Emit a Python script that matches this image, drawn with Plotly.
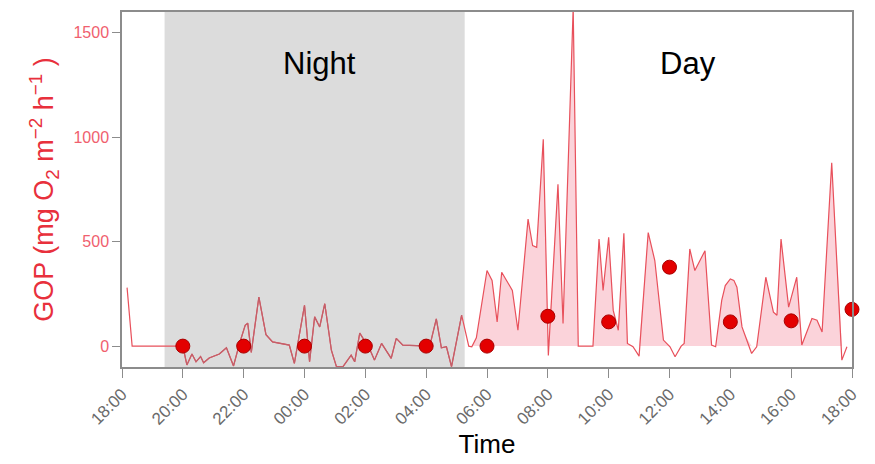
import pandas as pd
import numpy as np
import plotly.graph_objects as go

# ---------------- data ----------------
line_times = ["18:10", "18:20", "20:00", "20:08", "20:18", "20:26", "20:35", "20:41", "20:52",
              "21:12", "21:26", "21:40", "21:52", "22:03", "22:08", "22:15", "22:30", "22:44",
              "22:57", "23:17", "23:30", "23:40", "00:00", "00:10", "00:20", "00:30", "00:40",
              "00:53", "01:03", "01:16", "01:32", "01:39", "01:49", "02:08", "02:18", "02:32",
              "02:41", "02:51", "03:01", "03:14", "04:07", "04:20", "04:30", "04:40", "04:50",
              "05:10", "05:24", "05:30", "05:39", "06:00", "06:10", "06:20", "06:29", "06:38",
              "06:50", "07:01", "07:21", "07:30", "07:38", "07:51", "08:01", "08:20", "08:30",
              "08:50", "09:00", "09:29", "09:41", "09:49", "10:00", "10:09", "10:19", "10:30",
              "10:37", "10:48", "11:00", "11:18", "11:31", "11:48", "12:01", "12:11", "12:23",
              "12:29", "12:40", "12:50", "13:10", "13:23", "13:31", "13:43", "13:50", "14:00",
              "14:07", "14:13", "14:23", "14:29", "14:42", "14:52", "15:10", "15:25", "15:32",
              "15:40", "15:55", "16:11", "16:21", "16:41", "16:51", "17:01", "17:20", "17:40",
              "17:50"]
line_gop = [280, 0, 0, -90, -38, -75, -50, -80, -57,
            -38, -8, -95, 14, 100, 110, -30, 235, 55,
            20, 10, 5, -83, 195, -75, 140, 92, 203,
            -19, -98, -98, -43, -75, 62, -11, -67, 13,
            -19, -59, 37, 5, 0, 130, -8, -3, -98,
            148, 0, -3, 40, 362, 314, 116, 354, 314,
            267, 76, 608, 481, 473, 990, -45, 775, 108,
            1620, 0, 0, 513, 267, 521, 171, 76, 540,
            13, -3, -48, 544, 410, 29, -3, -51, 0,
            13, 465, 362, 457, 5, -3, 219, 290, 322,
            315, 282, 92, 52, -35, -3, 330, 163, 148,
            513, 187, 330, 5, 132, 124, 68, 878, -67,
            -3]

dot_times = ["20:00", "22:00", "00:00", "02:00", "04:00", "06:00", "08:00",
             "10:00", "12:00", "14:00", "16:00", "18:00"]
dot_gop = [0, 0, 0, 0, 0, 0, 143, 116, 378, 116, 121, 176]

night_window = ["19:24", "05:16"]
label_times = ["00:30", "12:36"]
yticks = [0, 500, 1000, 1500]
start_day = "2021-06-01"


def to_dt(times, start="18:00"):
    """Convert sequential HH:MM strings to datetimes, rolling over midnight."""
    base = pd.Timestamp(f"{start_day} 00:00")
    out = []
    day = 0
    prev_min = int(start[:2]) * 60 + int(start[3:])
    for t in times:
        m = int(t[:2]) * 60 + int(t[3:])
        if m < prev_min:
            day += 1
        prev_min = m
        out.append(base + pd.Timedelta(days=day, minutes=m))
    return out


lx = to_dt(line_times)
ly = np.array(line_gop, dtype=float)
dx = to_dt(dot_times)
nx = to_dt(night_window)
x0 = pd.Timestamp(f"{start_day} 18:00")
x1 = x0 + pd.Timedelta(hours=24)

is_day = np.array([t >= nx[1] for t in lx])
is_night = np.array([(t >= nx[0]) and (t <= nx[1]) for t in lx])

LINE = "#e8505b"
FONT = "Liberation Sans, Arial"
fig = go.Figure()

# day fill (positive part)
fig.add_trace(go.Scatter(
    x=[t for t, d in zip(lx, is_day) if d],
    y=np.maximum(ly[is_day], 0),
    mode="lines", line=dict(width=0, color="rgba(0,0,0,0)"),
    fill="tozeroy", fillcolor="#fbd3da", hoverinfo="skip", showlegend=False))

# main line
fig.add_trace(go.Scatter(x=lx, y=ly, mode="lines",
                         line=dict(color=LINE, width=1.2), showlegend=False))
# night part of the line appears darker under the grey shading
fig.add_trace(go.Scatter(x=[t for t, n in zip(lx, is_night) if n], y=ly[is_night],
                         mode="lines", line=dict(color="#c2606a", width=1.2),
                         showlegend=False))

# dots
fig.add_trace(go.Scatter(x=dx, y=dot_gop, mode="markers",
                         marker=dict(size=14, color="#e30000",
                                     line=dict(color="#a80000", width=1)),
                         cliponaxis=False, showlegend=False))

fig.add_shape(type="rect", xref="x", yref="paper", x0=nx[0], x1=nx[1], y0=0, y1=1,
              fillcolor="#dcdcdc", line=dict(width=0), layer="below")

lt = to_dt(label_times)
for t, txt in zip(lt, ["Night", "Day"]):
    fig.add_annotation(x=t, y=0.855, xref="x", yref="paper", yanchor="middle",
                       text=txt, showarrow=False,
                       font=dict(size=31, color="black", family=FONT))

fig.update_layout(
    width=867, height=456,
    margin=dict(l=114, r=23, t=2, b=97),
    paper_bgcolor="white", plot_bgcolor="white",
    font=dict(family=FONT),
)
fig.update_xaxes(
    range=[x0, x1], type="date",
    tick0=x0, dtick=2 * 3600 * 1000, tickformat="%H:%M", tickangle=-45,
    tickfont=dict(size=17, color="#6a6a6a"),
    showgrid=False, zeroline=False,
    showline=True, linecolor="#8c8c8c", linewidth=1.5, mirror=True,
    ticks="outside", ticklen=9, tickcolor="#8c8c8c",
    title=dict(text="Time", font=dict(size=26, color="black"), standoff=6),
)
fig.update_yaxes(
    range=[-100, 1600], tickvals=yticks,
    tickfont=dict(size=16, color="#f0606e"),
    showgrid=False, zeroline=False,
    showline=True, linecolor="#8c8c8c", linewidth=1.5, mirror=True,
    ticks="outside", ticklen=8, tickcolor="#8c8c8c",
    title=dict(text="GOP (mg O<sub>2</sub> m<sup>\u22122</sup> h<sup>\u22121</sup> )",
               font=dict(size=27, color="#e8303c"), standoff=12),
)

fig.write_html("out.html")
